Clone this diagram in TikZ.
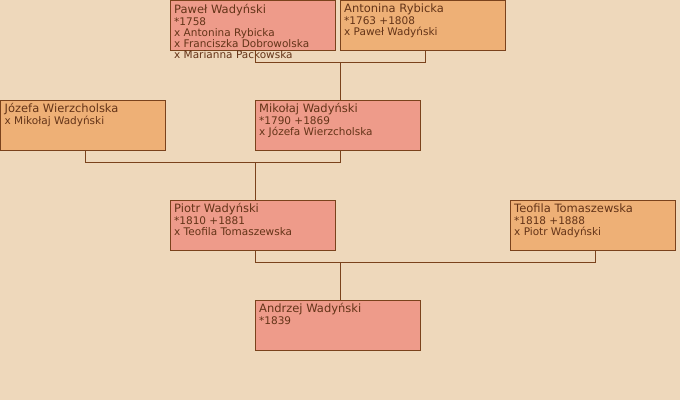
\documentclass[tikz,border=0pt]{standalone}
\usepackage{fontspec}
\setmainfont{DejaVu Sans}
\usepackage{xcolor}
\usepackage{tikz}
\usetikzlibrary{positioning,calc}
\definecolor{bgcolor}{RGB}{238,216,187}
\definecolor{mcolor}{RGB}{238,155,138}
\definecolor{fcolor}{RGB}{238,176,118}
\definecolor{lcolor}{RGB}{122,66,28}
\definecolor{tcolor}{RGB}{100,52,24}
\newcommand{\pname}[1]{{\fontsize{11.5}{12}\selectfont #1}\\[1pt]}

\begin{document}
\begin{tikzpicture}[x=1pt,y=-1pt,
    person/.style={draw=lcolor,line width=1pt,anchor=north west,minimum width=165pt,minimum height=50pt,inner sep=0pt,outer sep=0pt},
    male/.style={person,fill=mcolor},
    female/.style={person,fill=fcolor},
    txt/.style={anchor=north west,inner sep=0pt,align=left,text=tcolor,font=\fontsize{10.5}{11}\selectfont},
    link/.style={draw=lcolor,line width=1pt}]
  \useasboundingbox[fill=bgcolor] (0,0) rectangle (680,400);
  % boxes
  \foreach \n/\x/\y/\s in {pawel/170/0.5/male,antonina/340/0.5/female,jozefa/0.5/100/female,mikolaj/255/100/male,
                           piotr/170/200/male,teofila/510/200/female,andrzej/255/300/male} {
    \node[\s] (\n) at (\x,\y) {};
  }
  % texts
  \node[txt] (pawel-t) at ([shift={(4pt,-3.5pt)}]pawel.north west) {\pname{Paweł Wadyński}*1758\\x Antonina Rybicka\\x Franciszka Dobrowolska\\x Marianna Packowska};
  \node[txt] (antonina-t) at ([shift={(4pt,-3.5pt)}]antonina.north west) {\pname{Antonina Rybicka}*1763 +1808\\x Paweł Wadyński};
  \node[txt] (jozefa-t) at ([shift={(4pt,-3.5pt)}]jozefa.north west) {\pname{Józefa Wierzcholska}x Mikołaj Wadyński};
  \node[txt] (mikolaj-t) at ([shift={(4pt,-3.5pt)}]mikolaj.north west) {\pname{Mikołaj Wadyński}*1790 +1869\\x Józefa Wierzcholska};
  \node[txt] (piotr-t) at ([shift={(4pt,-3.5pt)}]piotr.north west) {\pname{Piotr Wadyński}*1810 +1881\\x Teofila Tomaszewska};
  \node[txt] (teofila-t) at ([shift={(4pt,-3.5pt)}]teofila.north west) {\pname{Teofila Tomaszewska}*1818 +1888\\x Piotr Wadyński};
  \node[txt] (andrzej-t) at ([shift={(4pt,-3.5pt)}]andrzej.north west) {\pname{Andrzej Wadyński}*1839};
  % couples and children
  \coordinate (bar1) at ([yshift=-12pt]pawel.south);
  \coordinate (bar2) at ([yshift=-12pt]mikolaj.south);
  \coordinate (bar3) at ([yshift=-12pt]piotr.south);
  \draw[link] ([xshift=2.5pt]pawel.south) |- ([xshift=2.5pt]antonina.south |- bar1) -- ([xshift=2.5pt]antonina.south);
  \draw[link] ([xshift=2.5pt]mikolaj.north) -- ([xshift=2.5pt]mikolaj.north |- bar1);
  \draw[link] ([xshift=2.5pt]jozefa.south) |- ([xshift=2.5pt]mikolaj.south |- bar2) -- ([xshift=2.5pt]mikolaj.south);
  \draw[link] ([xshift=2.5pt]piotr.north) -- ([xshift=2.5pt]piotr.north |- bar2);
  \draw[link] ([xshift=2.5pt]piotr.south) |- ([xshift=2.5pt]teofila.south |- bar3) -- ([xshift=2.5pt]teofila.south);
  \draw[link] ([xshift=2.5pt]andrzej.north) -- ([xshift=2.5pt]andrzej.north |- bar3);
\end{tikzpicture}
\end{document}
